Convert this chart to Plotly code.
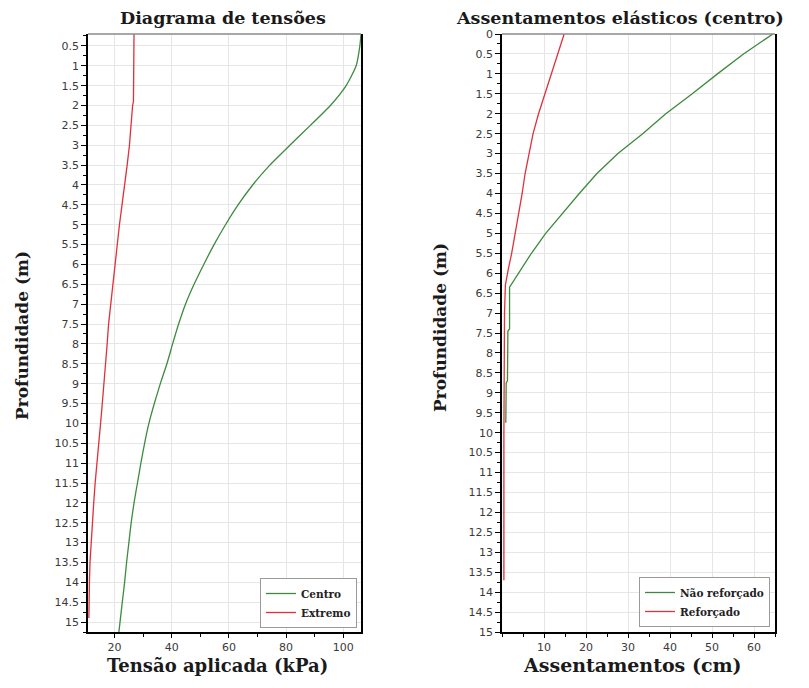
import plotly.graph_objects as go

# ---------------- data ----------------
# Left chart: Diagrama de tensões
depth_tensao = [0.2, 0.5, 1, 1.5, 2, 2.5, 3, 3.5, 4, 4.5, 5, 5.5, 6, 6.5, 7, 7.5, 8, 8.5,
                9, 9.5, 10, 10.5, 11, 11.5, 12, 12.5, 13, 13.5, 14, 14.5, 15, 15.25]
tensao_centro = [106.2, 105.8, 104.5, 101.0, 95.5, 88.5, 81.3, 74.3, 68.3, 63.2, 58.8, 54.8,
                 51.2, 47.8, 44.8, 42.4, 40.3, 38.3, 36.0, 33.9, 32.0, 30.5, 29.2, 28.0,
                 26.8, 25.8, 25.0, 24.2, 23.5, 22.7, 21.9, 21.5]
depth_extremo = [0.2, 0.5, 1, 1.5, 1.9, 2, 2.5, 3, 3.5, 4, 4.5, 5, 5.5, 6, 6.5, 7, 7.5, 8,
                 8.5, 9, 9.5, 10, 10.5, 11, 11.5, 12, 12.5, 13, 13.5, 14, 14.5, 14.9]
tensao_extremo = [26.8, 26.8, 26.8, 26.7, 26.6, 26.3, 25.8, 25.2, 24.4, 23.6, 22.6, 21.7,
                  20.9, 20.1, 19.3, 18.6, 17.9, 17.4, 16.9, 16.3, 15.7, 15.1, 14.4, 13.8,
                  13.2, 12.7, 12.2, 11.7, 11.4, 11.2, 11.1, 11.0]

# Right chart: Assentamentos elásticos (centro)
depth_nao = [0, 0.5, 1, 1.5, 2, 2.5, 3, 3.5, 4, 4.5, 5, 5.5, 6, 6.3, 6.35, 7.4, 7.45, 8.7,
             8.75, 9.75]
assent_nao = [64.5, 57.5, 51.3, 45.3, 39.0, 33.5, 27.6, 22.6, 18.4, 14.4, 10.4, 7.0, 4.0,
              2.3, 1.8, 1.8, 1.4, 1.3, 1.0, 0.9]
depth_ref = [0, 0.5, 1, 1.5, 2, 2.5, 3, 3.5, 4, 4.5, 5, 5.5, 5.9, 6.3, 7, 8, 10, 13.7]
assent_ref = [14.8, 13.3, 11.8, 10.3, 8.7, 7.4, 6.4, 5.5, 4.8, 4.0, 3.1, 2.3, 1.5, 0.8,
              0.6, 0.5, 0.45, 0.45]

# tick labels
ytick_left = [0.5 * i for i in range(1, 31)]
ytick_right = [0.5 * i for i in range(0, 31)]
xtick_left = [20, 40, 60, 80, 100]
xtick_right = [10, 20, 30, 40, 50, 60]


def fmt(v):
    return str(int(v)) if float(v).is_integer() else str(v)


GREEN = "#3d8b3d"
RED = "#e0303a"
OFF = 8              # page body margin
W, H = 793, 672      # figure size (page 809x688 minus body margins)
PLOT_TOP, PLOT_BOT = 34, 632   # page pixels
MT = PLOT_TOP - OFF
MB = (OFF + H) - PLOT_BOT
PH = PLOT_BOT - PLOT_TOP


def px(x):
    return (x - OFF) / W


def py(y):
    return (PLOT_BOT - y) / PH


fig = go.Figure()
fig.add_trace(go.Scatter(x=tensao_centro, y=depth_tensao, mode="lines", name="<b>Centro</b>",
                         line=dict(color=GREEN, width=1.3, shape="spline", smoothing=0.6),
                         xaxis="x", yaxis="y", legend="legend"))
fig.add_trace(go.Scatter(x=tensao_extremo, y=depth_extremo, mode="lines", name="<b>Extremo</b>",
                         line=dict(color=RED, width=1.3), xaxis="x", yaxis="y", legend="legend"))
fig.add_trace(go.Scatter(x=assent_nao, y=depth_nao, mode="lines", name="<b>Não reforçado</b>",
                         line=dict(color=GREEN, width=1.3), xaxis="x2", yaxis="y2", legend="legend2"))
fig.add_trace(go.Scatter(x=assent_ref, y=depth_ref, mode="lines", name="<b>Reforçado</b>",
                         line=dict(color=RED, width=1.3), xaxis="x2", yaxis="y2", legend="legend2"))

tickfont = dict(family="DejaVu Sans", size=11, color="#3a3a3a")
grid = "#e6e6e6"

common_x = dict(showline=True, linecolor="black", linewidth=1.5, ticks="outside", ticklen=4,
                tickcolor="black", tickfont=tickfont, showgrid=True, gridcolor=grid,
                zeroline=False, mirror=False)
common_y = dict(showline=True, linecolor="black", linewidth=1.5, ticks="outside", ticklen=5,
                tickcolor="black", tickfont=tickfont, showgrid=True, gridcolor=grid,
                zeroline=False, mirror=True)

fig.update_layout(
    width=W, height=H,
    margin=dict(l=0, r=0, t=MT, b=MB),
    paper_bgcolor="white", plot_bgcolor="white",
    xaxis=dict(domain=[px(88), px(361)], anchor="y", range=[10.7, 106.2],
               tickvals=xtick_left, ticktext=[fmt(v) for v in xtick_left],
               minor=dict(dtick=10, tick0=0, ticks="outside", ticklen=3, tickcolor="black",
                          showgrid=False), **common_x),
    yaxis=dict(domain=[0, 1], anchor="x", range=[15.25, 0.2],
               tickvals=ytick_left, ticktext=[fmt(v) for v in ytick_left],
               minor=dict(dtick=0.25, tick0=0, ticks="outside", ticklen=3, tickcolor="black",
                          showgrid=False), **common_y),
    xaxis2=dict(domain=[px(502), px(775)], anchor="y2", range=[0, 65],
                tickvals=xtick_right, ticktext=[fmt(v) for v in xtick_right],
                minor=dict(dtick=5, tick0=0, ticks="outside", ticklen=3, tickcolor="black",
                           showgrid=False), **common_x),
    yaxis2=dict(domain=[0, 1], anchor="x2", range=[15, 0],
                tickvals=ytick_right, ticktext=[fmt(v) for v in ytick_right],
                minor=dict(dtick=0.25, tick0=0, ticks="outside", ticklen=3, tickcolor="black",
                           showgrid=False), **common_y),
    legend=dict(x=px(357), y=py(628), xanchor="right", yanchor="bottom",
                bgcolor="white", bordercolor="#9a9a9a", borderwidth=1,
                font=dict(family="DejaVu Serif", size=10.5, color="#222"),
                itemwidth=30, tracegroupgap=0),
    legend2=dict(x=px(770), y=py(627), xanchor="right", yanchor="bottom",
                 bgcolor="white", bordercolor="#9a9a9a", borderwidth=1,
                 font=dict(family="DejaVu Serif", size=10.5, color="#222"),
                 itemwidth=30, tracegroupgap=0),
    showlegend=True,
)

# gray top borders
for xr in ["x domain", "x2 domain"]:
    fig.add_shape(type="line", xref=xr, yref="paper", x0=0, x1=1, y0=1, y1=1,
                  line=dict(color="#8a8a8a", width=1.5))

ann = [
    dict(text="<b>Diagrama de tensões</b>", x=px(223), y=py(18), size=17.5),
    dict(text="<b>Assentamentos elásticos (centro)</b>", x=px(620), y=py(18), size=17.5),
    dict(text="<b>Tensão aplicada (kPa)</b>", x=px(218), y=py(665), size=18),
    dict(text="<b>Assentamentos (cm)</b>", x=px(632), y=py(665), size=19),
    dict(text="<b>Profundidade (m)</b>", x=px(22), y=py(336), size=17, textangle=-90),
    dict(text="<b>Profundidade (m)</b>", x=px(440), y=py(328), size=17, textangle=-90),
]
for a in ann:
    size = a.pop("size")
    fig.add_annotation(xref="paper", yref="paper", showarrow=False,
                       xanchor="center", yanchor="middle", borderpad=0,
                       font=dict(family="DejaVu Serif", size=size, color="#1a1a1a"), **a)

fig.write_html("out.html")
